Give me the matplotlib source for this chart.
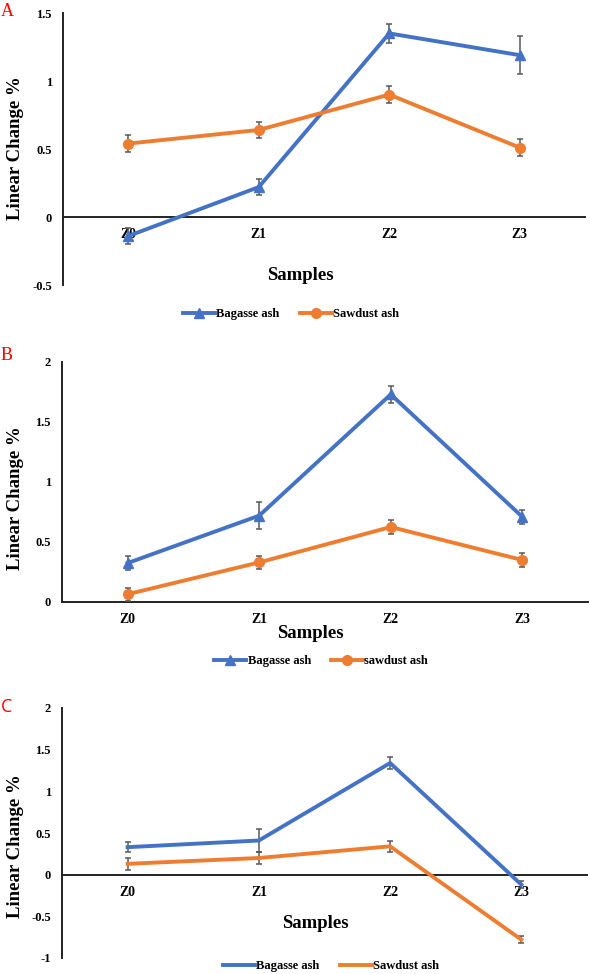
import matplotlib
matplotlib.use("Agg")
import matplotlib.pyplot as plt
from matplotlib.lines import Line2D
import numpy as np

samples = ["Z0", "Z1", "Z2", "Z3"]

# panel A
a_bagasse = [-0.14, 0.22, 1.35, 1.19]
a_bagasse_err = [0.06, 0.06, 0.07, 0.14]
a_sawdust = [0.54, 0.64, 0.90, 0.51]
a_sawdust_err = [0.06, 0.06, 0.065, 0.065]

# panel B
b_bagasse = [0.325, 0.72, 1.73, 0.71]
b_bagasse_err = [0.055, 0.11, 0.07, 0.06]
b_sawdust = [0.065, 0.33, 0.625, 0.35]
b_sawdust_err = [0.055, 0.055, 0.06, 0.06]

# panel C
c_bagasse = [0.33, 0.41, 1.34, -0.12]
c_bagasse_err = [0.06, 0.14, 0.07, 0.04]
c_sawdust = [0.13, 0.20, 0.34, -0.78]
c_sawdust_err = [0.07, 0.07, 0.07, 0.04]

BLUE = "#4472C4"
ORANGE = "#ED7D31"
ERR = "#595959"
serif = ["Liberation Serif", "DejaVu Serif"]

W, H = 590, 974
fig = plt.figure(figsize=(W / 100, H / 100), dpi=100)


def px(x, y):
    return x / W, 1 - y / H


def panel(rect, ylim, yticks, ytlabels, bag, bag_err, saw, saw_err, markers,
          letter, letter_pos, letter_font, ylab_y, xlab_pos, leg_pos, labels):
    l, t, r, b = rect
    ax = fig.add_axes([l / W, 1 - b / H, (r - l) / W, (b - t) / H])
    x = np.arange(len(samples))
    mk1, mk2 = ("^", "o") if markers else (None, None)
    ax.errorbar(x, bag, yerr=bag_err, color=BLUE, lw=2.8, marker=mk1, ms=7,
                ecolor=ERR, elinewidth=1.1, capsize=2.5, capthick=1.1, zorder=3)
    ax.errorbar(x, saw, yerr=saw_err, color=ORANGE, lw=2.8, marker=mk2, ms=7,
                ecolor=ERR, elinewidth=1.1, capsize=2.5, capthick=1.1, zorder=3)
    for s in ["top", "right"]:
        ax.spines[s].set_visible(False)
    ax.spines["bottom"].set_position(("data", 0))
    ax.spines["left"].set_linewidth(1.4)
    ax.spines["bottom"].set_linewidth(1.4)
    ax.spines["left"].set_color("#222222")
    ax.spines["bottom"].set_color("#222222")
    ax.set_xlim(-0.5, 3.5)
    ax.set_ylim(*ylim)
    ax.set_yticks(yticks)
    ax.set_yticklabels(ytlabels, fontfamily=serif, fontweight="bold", fontsize=9)
    ax.set_xticks(x)
    ax.set_xticklabels(samples, fontfamily=serif, fontweight="bold", fontsize=10)
    ax.tick_params(length=0, axis="y", pad=8)
    ax.tick_params(length=0, axis="x", pad=8)
    ax.patch.set_alpha(0)

    fig.text(*px(15, ylab_y), "Linear Change %", rotation=90, ha="center",
             va="center", fontfamily=serif, fontweight="bold", fontsize=13.5)
    fig.text(*px(*xlab_pos), "Samples", ha="center", va="center",
             fontfamily=serif, fontweight="bold", fontsize=13.5)
    fig.text(*px(*letter_pos), letter, color="red", ha="left", va="center",
             fontfamily=letter_font, fontsize=13)
    h = [Line2D([], [], color=BLUE, lw=2.8, marker=mk1, ms=7),
         Line2D([], [], color=ORANGE, lw=2.8, marker=mk2, ms=7)]
    fig.legend(h, labels, loc="center", bbox_to_anchor=px(*leg_pos), ncol=2,
               frameon=False, prop={"family": serif, "weight": "bold", "size": 9},
               handlelength=2.6, handletextpad=0.1, columnspacing=1.6)
    return ax


panel((63, 13, 585, 285), (-0.5, 1.5), [-0.5, 0, 0.5, 1, 1.5],
      ["-0.5", "0", "0.5", "1", "1.5"],
      a_bagasse, a_bagasse_err, a_sawdust, a_sawdust_err, True,
      "A", (1, 11), serif, 148, (300, 276), (291, 314),
      ["Bagasse ash", "Sawdust ash"])

panel((62, 362, 588, 602), (0, 2), [0, 0.5, 1, 1.5, 2],
      ["0", "0.5", "1", "1.5", "2"],
      b_bagasse, b_bagasse_err, b_sawdust, b_sawdust_err, True,
      "B", (1, 355), serif, 498, (310, 633), (321, 661),
      ["Bagasse ash", "sawdust ash"])

panel((62, 708, 587, 958), (-1, 2), [-1, -0.5, 0, 0.5, 1, 1.5, 2],
      ["-1", "-0.5", "0", "0.5", "1", "1.5", "2"],
      c_bagasse, c_bagasse_err, c_sawdust, c_sawdust_err, False,
      "C", (1, 707), ["Open Sans", "DejaVu Sans"], 846, (315, 924), (331, 966),
      ["Bagasse ash", "Sawdust ash"])

fig.savefig("out.png", dpi=100)
